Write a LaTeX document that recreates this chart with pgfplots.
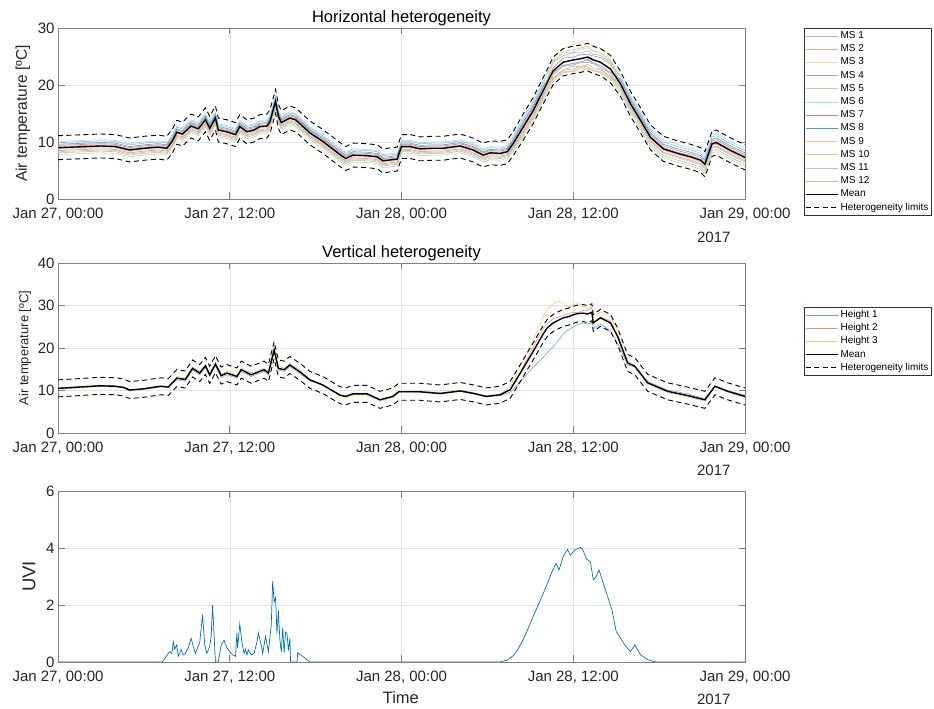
\documentclass[border=0pt]{standalone}
\usepackage{fontspec}
\setmainfont{Liberation Sans}
\usepackage{pgfplots}
\usepackage{pgfplotstable}
\pgfplotsset{compat=1.18}
\definecolor{c1}{HTML}{0072BD}
\definecolor{c2}{HTML}{D95319}
\definecolor{c3}{HTML}{EDB120}
\definecolor{c4}{HTML}{7E2F8E}
\definecolor{c5}{HTML}{77AC30}
\definecolor{c6}{HTML}{4DBEEE}
\definecolor{c7}{HTML}{A2142F}
\definecolor{axgray}{HTML}{808080}
\definecolor{txt}{HTML}{262626}

\pgfplotstableread{
t mean lo hi m1 m2 m3 m4 m5 m6 m7 m8 m9 m10 m11 m12
0 9.0 6.9 11.1 9.9 9.2 8.7 8.5 7.8 10.1 9.4 9.6 8.9 9.0 8.3 8.1
1 9.1 7.0 11.2 10.0 9.3 8.8 8.6 7.9 10.2 9.5 9.7 9.0 9.1 8.4 8.2
2 9.2 7.1 11.3 10.1 9.4 8.9 8.7 8.0 10.3 9.6 9.8 9.1 9.2 8.5 8.3
3 9.3 7.2 11.4 10.2 9.5 9.0 8.8 8.1 10.4 9.7 9.9 9.2 9.3 8.6 8.4
4 9.2 7.1 11.3 10.1 9.4 8.9 8.7 8.0 10.3 9.6 9.8 9.1 9.2 8.5 8.3
5 8.6 6.5 10.7 9.5 8.8 8.3 8.1 7.4 9.7 9.0 9.2 8.5 8.6 7.9 7.7
6 8.9 6.8 11.0 9.8 9.1 8.6 8.4 7.7 10.0 9.3 9.5 8.8 8.9 8.2 8.0
7 9.1 7.0 11.2 10.0 9.3 8.8 8.6 7.9 10.2 9.5 9.7 9.0 9.1 8.4 8.2
7.6 8.9 6.8 11.0 9.8 9.1 8.6 8.4 7.7 10.0 9.3 9.5 8.8 8.9 8.2 8.0
8.0 10.2 8.1 12.3 11.1 10.4 9.9 9.7 9.0 11.3 10.6 10.8 10.1 10.2 9.5 9.3
8.3 11.7 9.6 13.8 12.6 11.9 11.4 11.2 10.5 12.8 12.1 12.3 11.6 11.7 11.0 10.8
8.7 11.4 9.3 13.5 12.3 11.6 11.1 10.9 10.2 12.5 11.8 12.0 11.3 11.4 10.7 10.5
9.3 12.8 10.7 14.9 13.7 13.0 12.5 12.3 11.6 13.9 13.2 13.4 12.7 12.8 12.1 11.9
9.8 12.3 10.2 14.4 13.2 12.5 12.0 11.8 11.1 13.4 12.7 12.9 12.2 12.3 11.6 11.4
10.3 13.9 11.8 16.0 14.8 14.1 13.6 13.4 12.7 15.0 14.3 14.5 13.8 13.9 13.2 13.0
10.6 12.4 10.3 14.5 13.3 12.6 12.1 11.9 11.2 13.5 12.8 13.0 12.3 12.4 11.7 11.5
11.0 14.2 12.1 16.3 15.1 14.4 13.9 13.7 13.0 15.3 14.6 14.8 14.1 14.2 13.5 13.3
11.2 12.1 10.0 14.2 13.0 12.3 11.8 11.6 10.9 13.2 12.5 12.7 12.0 12.1 11.4 11.2
11.8 11.8 9.7 13.9 12.7 12.0 11.5 11.3 10.6 12.9 12.2 12.4 11.7 11.8 11.1 10.9
12.4 11.3 9.2 13.4 12.2 11.5 11.0 10.8 10.1 12.4 11.7 11.9 11.2 11.3 10.6 10.4
12.7 12.7 10.6 14.8 13.6 12.9 12.4 12.2 11.5 13.8 13.1 13.3 12.6 12.7 12.0 11.8
13.2 11.8 9.7 13.9 12.7 12.0 11.5 11.3 10.6 12.9 12.2 12.4 11.7 11.8 11.1 10.9
13.7 12.1 10.0 14.2 13.0 12.3 11.8 11.6 10.9 13.2 12.5 12.7 12.0 12.1 11.4 11.2
14.1 12.7 10.6 14.8 13.6 12.9 12.4 12.2 11.5 13.8 13.1 13.3 12.6 12.7 12.0 11.8
14.6 12.8 10.7 14.9 13.7 13.0 12.5 12.3 11.6 13.9 13.2 13.4 12.7 12.8 12.1 11.9
14.8 13.5 11.4 15.6 14.4 13.7 13.2 13.0 12.3 14.6 13.9 14.1 13.4 13.5 12.8 12.6
15.2 17.1 15.0 19.2 18.0 17.3 16.8 16.6 15.9 18.2 17.5 17.7 17.0 17.1 16.4 16.2
15.4 14.5 12.4 16.6 15.4 14.7 14.2 14.0 13.3 15.6 14.9 15.1 14.4 14.5 13.8 13.6
15.6 13.4 11.3 15.5 14.3 13.6 13.1 12.9 12.2 14.5 13.8 14.0 13.3 13.4 12.7 12.5
16.2 14.2 12.1 16.3 15.1 14.4 13.9 13.7 13.0 15.3 14.6 14.8 14.1 14.2 13.5 13.3
16.6 13.9 11.8 16.0 14.8 14.1 13.6 13.4 12.7 15.0 14.3 14.5 13.8 13.9 13.2 13.0
17.6 11.6 9.5 13.7 12.5 11.8 11.3 11.1 10.4 12.7 12.0 12.2 11.5 11.6 10.9 10.7
18.5 10.1 8.0 12.2 11.0 10.3 9.8 9.6 8.9 11.2 10.5 10.7 10.0 10.1 9.4 9.2
19.7 7.8 5.7 9.9 8.7 8.0 7.5 7.3 6.6 8.9 8.2 8.4 7.7 7.8 7.1 6.9
20.1 7.1 5.0 9.2 8.0 7.3 6.8 6.6 5.9 8.2 7.5 7.7 7.0 7.1 6.4 6.2
20.6 7.7 5.6 9.8 8.6 7.9 7.4 7.2 6.5 8.8 8.1 8.3 7.6 7.7 7.0 6.8
21.6 7.6 5.5 9.7 8.5 7.8 7.3 7.1 6.4 8.7 8.0 8.2 7.5 7.6 6.9 6.7
22.3 7.4 5.3 9.5 8.3 7.6 7.1 6.9 6.2 8.5 7.8 8.0 7.3 7.4 6.7 6.5
22.7 6.7 4.6 8.8 7.6 6.9 6.4 6.2 5.5 7.8 7.1 7.3 6.6 6.7 6.0 5.8
23.7 7.0 4.9 9.1 7.9 7.2 6.7 6.5 5.8 8.1 7.4 7.6 6.9 7.0 6.3 6.1
24.0 9.2 7.1 11.3 10.1 9.4 8.9 8.7 8.0 10.3 9.6 9.8 9.1 9.2 8.5 8.3
24.6 9.2 7.1 11.3 10.1 9.4 8.9 8.7 8.0 10.3 9.6 9.8 9.1 9.2 8.5 8.3
25.3 8.8 6.7 10.9 9.7 9.0 8.5 8.3 7.6 9.9 9.2 9.4 8.7 8.8 8.1 7.9
26.2 8.9 6.8 11.0 9.8 9.1 8.6 8.4 7.7 10.0 9.3 9.5 8.8 8.9 8.2 8.0
26.9 8.9 6.8 11.0 9.8 9.1 8.6 8.4 7.7 10.0 9.3 9.5 8.8 8.9 8.2 8.0
28.1 9.3 7.2 11.4 10.2 9.5 9.0 8.8 8.1 10.4 9.7 9.9 9.2 9.3 8.6 8.4
29.0 8.6 6.5 10.7 9.5 8.8 8.3 8.1 7.4 9.7 9.0 9.2 8.5 8.6 7.9 7.7
29.7 7.7 5.6 9.8 8.6 7.9 7.4 7.2 6.5 8.8 8.1 8.3 7.6 7.7 7.0 6.8
30.2 8.1 6.0 10.2 9.0 8.3 7.8 7.6 6.9 9.2 8.5 8.7 8.0 8.1 7.4 7.2
30.9 8.0 5.9 10.1 8.9 8.2 7.7 7.5 6.8 9.1 8.4 8.6 7.9 8.0 7.3 7.1
31.4 8.3 6.2 10.4 9.2 8.5 8.0 7.8 7.1 9.4 8.7 8.9 8.2 8.3 7.6 7.4
31.8 9.7 7.6 11.8 10.8 9.9 9.3 9.1 8.3 11.0 10.2 10.4 9.6 9.7 8.9 8.6
32.5 12.6 10.3 14.9 14.0 12.9 12.1 11.8 10.8 14.3 13.2 13.5 12.4 12.6 11.5 11.2
33.2 15.5 13.2 17.8 16.9 15.8 15.0 14.7 13.7 17.2 16.1 16.4 15.3 15.5 14.4 14.1
33.9 19.0 16.7 21.3 20.4 19.3 18.5 18.2 17.2 20.7 19.6 19.9 18.8 19.0 17.9 17.6
34.6 22.5 20.1 24.9 24.0 21.3 24.5 21.8 20.6 24.3 23.0 22.2 21.0 24.0 21.9 21.2
35.3 24.0 21.6 26.4 25.1 22.6 26.3 23.3 22.1 25.6 24.7 23.4 22.3 25.9 23.5 22.7
36.0 24.4 22.0 26.8 25.7 22.8 27.1 23.5 22.5 25.8 24.9 23.8 22.4 26.2 23.7 23.3
36.5 24.6 22.2 27.0 25.6 23.3 27.6 23.9 22.4 26.3 25.3 24.0 23.0 26.5 24.0 23.2
37.0 24.9 22.5 27.3 26.0 23.2 27.8 24.0 23.0 26.5 25.4 24.5 22.9 26.8 24.3 23.6
37.4 24.4 22.0 26.8 25.4 22.6 26.6 23.7 22.6 25.9 25.1 23.9 22.5 26.0 23.8 23.0
37.9 24.0 21.6 26.4 25.2 22.7 26.3 23.1 22.1 25.7 24.8 23.4 22.3 25.6 23.4 22.8
38.6 22.8 20.4 25.2 24.0 21.5 24.6 22.0 21.0 24.4 23.7 22.2 21.2 24.2 22.1 21.5
39.3 20.2 18.0 22.4 21.4 20.4 19.9 19.6 18.6 21.8 20.7 21.0 20.0 20.2 19.4 19.0
40.0 16.7 14.5 18.9 17.9 16.9 16.4 16.1 15.1 18.3 17.2 17.5 16.5 16.7 15.9 15.5
40.7 13.8 11.6 16.0 15.0 14.0 13.5 13.2 12.2 15.4 14.3 14.6 13.6 13.8 13.0 12.6
41.4 10.8 8.6 13.0 12.0 11.0 10.5 10.2 9.2 12.4 11.3 11.6 10.6 10.8 10.0 9.6
42.3 8.8 6.6 11.0 10.0 9.0 8.5 8.2 7.2 10.4 9.3 9.6 8.6 8.8 8.0 7.6
43.3 8.0 5.8 10.2 9.2 8.2 7.7 7.4 6.4 9.6 8.5 8.8 7.8 8.0 7.2 6.8
44.2 7.4 5.2 9.6 8.6 7.6 7.1 6.8 5.8 9.0 7.9 8.2 7.2 7.4 6.6 6.2
44.9 6.8 4.6 9.0 8.0 7.0 6.5 6.2 5.2 8.4 7.3 7.6 6.6 6.8 6.0 5.6
45.2 6.1 3.9 8.3 7.3 6.3 5.8 5.5 4.5 7.7 6.6 6.9 5.9 6.1 5.3 4.9
45.7 9.7 7.5 11.9 10.9 9.9 9.4 9.1 8.1 11.3 10.2 10.5 9.5 9.7 8.9 8.5
46.0 9.9 7.7 12.1 11.1 10.1 9.6 9.3 8.3 11.5 10.4 10.7 9.7 9.9 9.1 8.7
47.0 8.5 6.3 10.7 9.7 8.7 8.2 7.9 6.9 10.1 9.0 9.3 8.3 8.5 7.7 7.3
48.0 7.3 5.1 9.5 8.5 7.5 7.0 6.7 5.7 8.9 7.8 8.1 7.1 7.3 6.5 6.1
}\toptab

\pgfplotstableread{
t mean lo hi h1 h2 h3
0 10.5 8.5 12.5 10.6 10.5 10.3
1.5 10.8 8.8 12.8 10.9 10.8 10.6
2.9 11.1 9.1 13.1 11.2 11.1 10.9
4.0 11.0 9.0 13.0 11.1 11.0 10.8
4.6 10.7 8.7 12.7 10.8 10.7 10.5
5.0 10.1 8.1 12.1 10.2 10.1 9.9
6.0 10.4 8.4 12.4 10.5 10.4 10.2
7.2 11.0 9.0 13.0 11.1 11.0 10.8
7.7 10.8 8.8 12.8 10.9 10.8 10.6
8.3 12.9 10.9 14.9 12.5 12.9 13.3
8.9 12.6 10.6 14.6 12.2 12.6 13.0
9.4 15.2 13.2 17.2 14.8 15.2 15.6
9.9 14.1 12.1 16.1 13.7 14.1 14.5
10.3 15.8 13.8 17.8 15.4 15.8 16.2
10.6 13.7 11.7 15.7 13.3 13.7 14.1
11.0 16.2 14.2 18.2 15.8 16.2 16.6
11.4 13.5 11.5 15.5 13.1 13.5 13.9
11.8 14.1 12.1 16.1 13.7 14.1 14.5
12.5 13.3 11.3 15.3 12.9 13.3 13.7
12.8 14.9 12.9 16.9 14.5 14.9 15.3
13.5 13.7 11.7 15.7 13.3 13.7 14.1
14.4 14.9 12.9 16.9 14.5 14.9 15.3
14.7 14.1 12.1 16.1 13.7 14.1 14.5
15.1 19.5 17.5 21.5 19.1 19.5 20.5
15.4 15.2 13.2 17.2 14.8 15.2 15.6
15.8 14.9 12.9 16.9 14.5 14.9 15.3
16.2 16.0 14.0 18.0 15.6 16.0 16.4
16.9 14.4 12.4 16.4 14.0 14.4 14.8
17.6 12.5 10.5 14.5 12.3 12.5 12.7
18.5 11.3 9.3 13.3 11.2 11.3 11.4
19.7 8.9 6.9 10.9 9.0 8.9 8.6
20.1 8.6 6.6 10.6 8.7 8.6 8.3
20.6 9.2 7.2 11.2 9.3 9.2 8.9
21.6 9.2 7.2 11.2 9.3 9.2 8.9
22.5 7.8 5.8 9.8 7.9 7.8 7.5
23.4 8.6 6.6 10.6 8.7 8.6 8.3
23.8 9.7 7.7 11.7 9.8 9.7 9.5
25.3 9.7 7.7 11.7 9.6 9.7 9.9
26.7 9.3 7.3 11.3 9.2 9.3 9.5
28.1 9.9 7.9 11.9 9.8 9.9 10.1
29.2 9.2 7.2 11.2 9.1 9.2 9.4
29.9 8.6 6.6 10.6 8.5 8.6 8.8
30.9 9.0 7.0 11.0 8.8 9.0 9.2
31.6 10.2 8.2 12.2 9.6 10.2 10.8
32.3 14.1 12.1 16.1 12.0 14.3 15.8
33.2 19.2 17.2 21.2 15.5 20.3 21.8
33.9 23.3 21.3 25.3 17.8 24.6 27.4
34.2 24.8 22.8 26.8 19.0 25.8 29.2
34.6 25.9 23.9 27.9 20.3 26.9 30.4
35.0 26.6 24.6 28.6 22.0 27.3 31.0
35.3 27.1 25.1 29.1 23.3 27.6 30.5
35.6 27.3 25.3 29.3 24.2 27.9 29.6
36.0 27.8 25.8 29.8 24.9 28.4 30.1
36.3 28.1 26.1 30.1 25.5 28.3 30.7
36.7 28.2 26.2 30.2 25.9 28.9 29.8
37.0 28.0 26.0 30.0 25.6 28.8 29.3
37.3 28.4 26.4 30.4 26.0 29.4 29.7
37.4 25.9 23.9 27.9 24.6 26.0 27.2
37.9 27.1 25.1 29.1 25.6 27.3 28.4
38.6 25.9 23.9 27.9 24.0 26.4 27.4
39.1 22.7 20.7 24.7 21.2 23.0 24.0
39.8 16.5 14.5 18.5 16.0 16.5 17.0
40.3 15.7 13.7 17.7 15.6 15.7 15.6
41.2 11.8 9.8 13.8 12.1 11.8 11.5
42.6 9.8 7.8 11.8 10.1 9.8 9.5
44.0 8.8 6.8 10.8 9.2 8.8 8.4
45.2 7.8 5.8 9.8 8.1 7.8 7.5
45.9 11.0 9.0 13.0 11.1 11.0 10.9
46.8 9.8 7.8 11.8 10.0 9.8 9.6
48.0 8.6 6.6 10.6 8.9 8.6 8.3
}\midtab

\pgfplotsset{
  base/.style={
    scale only axis, width=687pt, anchor=south west,
    clip mode=individual,
    xmin=0, xmax=48, xtick={0,12,24,36,48},
    xticklabels={{Jan 27, 00:00},{Jan 27, 12:00},{Jan 28, 00:00},{Jan 28, 12:00},{Jan 29, 00:00}},
    grid=major, major grid style={color=black!11, line width=0.5pt},
    axis line style={color=axgray, line width=0.6pt},
    tick style={color=axgray, line width=0.6pt},
    tick align=inside, major tick length=6.5pt,
    ticklabel style={font=\fontsize{15}{17}\selectfont, text=txt},
    xticklabel style={yshift=-5pt},
    /pgf/number format/assume math mode=true,
    every axis title shift=0pt,
    title style={font=\fontsize{16.5}{18}\selectfont, at={(axis description cs:0.5,1)}, anchor=base, yshift=5.8pt, text=black},
    legend cell align=left,
    legend image code/.code={\draw[mark repeat=2,mark phase=2,#1] plot coordinates {(0pt,0pt) (16pt,0pt) (32pt,0pt)};},
  },
  msline/.style={line width=0.6pt},
  meanline/.style={black, line width=1.4pt},
  limline/.style={black, line width=0.9pt, dash pattern=on 5pt off 3.5pt},
  leg/.style={legend style={font=\fontsize{10}{11}\selectfont, draw=black!80, line width=0.5pt, inner sep=1pt, row sep=0pt,
      nodes={text height=7.4pt, text depth=2pt, inner sep=1.9pt}, fill=white}},
}

\begin{document}
\begin{tikzpicture}
\useasboundingbox (0,0) rectangle (934pt,709pt);

% ---------- top ----------
\begin{axis}[base, leg, at={(58pt,510pt)}, height=171pt,
  ymin=0, ymax=30, ytick={0,10,20,30},
  title={Horizontal heterogeneity},
  ylabel={Air temperature [ºC]},
  ylabel style={font=\fontsize{15.5}{17}\selectfont, text=txt, at={(axis description cs:-0.051,0.5)}, anchor=center},
  legend style={at={(axis description cs:1.0859,1)}, anchor=north west},
]
\addplot[msline, c1!45!white] table[x=t,y=m1]{\toptab};
\addplot[msline, c2!50!white] table[x=t,y=m2]{\toptab};
\addplot[msline, c3!50!white] table[x=t,y=m3]{\toptab};
\addplot[msline, c4!50!white] table[x=t,y=m4]{\toptab};
\addplot[msline, c5!50!white] table[x=t,y=m5]{\toptab};
\addplot[msline, c6!50!white] table[x=t,y=m6]{\toptab};
\addplot[msline, c7!55!white] table[x=t,y=m7]{\toptab};
\addplot[msline, c1!70!white] table[x=t,y=m8]{\toptab};
\addplot[msline, c2!35!white, line width=1.2pt] table[x=t,y=m9]{\toptab};
\addplot[msline, c3!70!white] table[x=t,y=m10]{\toptab};
\addplot[msline, c4!35!white] table[x=t,y=m11]{\toptab};
\addplot[msline, c5!60!white] table[x=t,y=m12]{\toptab};
\addplot[meanline] table[x=t,y=mean]{\toptab};
\addplot[limline] table[x=t,y=lo]{\toptab};
\addplot[limline, forget plot] table[x=t,y=hi]{\toptab};
\legend{MS 1,MS 2,MS 3,MS 4,MS 5,MS 6,MS 7,MS 8,MS 9,MS 10,MS 11,MS 12,Mean,Heterogeneity limits}
\node[anchor=north west, inner sep=0pt, yshift=-33pt, font=\fontsize{15}{17}\selectfont, text=txt] at (axis description cs:0.930,0) {2017};
\end{axis}

% ---------- middle ----------
\begin{axis}[base, leg, at={(58pt,276pt)}, height=170pt,
  ymin=0, ymax=40, ytick={0,10,20,30,40},
  title={Vertical heterogeneity},
  ylabel={Air temperature [ºC]},
  ylabel style={font=\fontsize{13}{15}\selectfont, text=txt, at={(axis description cs:-0.048,0.5)}, anchor=center},
  legend style={at={(axis description cs:1.0859,0.741)}, anchor=north west},
]
\addplot[msline, c1!60!white] table[x=t,y=h1]{\midtab};
\addplot[msline, c2!60!white] table[x=t,y=h2]{\midtab};
\addplot[msline, c3!65!white] table[x=t,y=h3]{\midtab};
\addplot[meanline] table[x=t,y=mean]{\midtab};
\addplot[limline] table[x=t,y=lo]{\midtab};
\addplot[limline, forget plot] table[x=t,y=hi]{\midtab};
\legend{Height 1,Height 2,Height 3,Mean,Heterogeneity limits}
\node[anchor=north west, inner sep=0pt, yshift=-32pt, font=\fontsize{15}{17}\selectfont, text=txt] at (axis description cs:0.930,0) {2017};
\end{axis}

% ---------- bottom ----------
\begin{axis}[base, at={(58pt,47pt)}, height=171pt,
  ymin=0, ymax=6, ytick={0,2,4,6},
  ylabel={UVI},
  ylabel style={font=\fontsize{18.5}{20}\selectfont, text=txt, at={(axis description cs:-0.042,0.5)}, anchor=center},
  xlabel={Time},
  xlabel style={font=\fontsize{16.5}{18}\selectfont, text=txt, at={(axis description cs:0.499,-0.17)}, anchor=north, inner sep=0pt},
]
\addplot[c1, line width=0.7pt] coordinates {
(0,0) (7.3,0) (7.5,0.15) (7.8,0.36) (7.95,0.3) (8.06,0.71) (8.15,0.45) (8.3,0.6) (8.4,0.2) (8.6,0.43) (8.75,0.25) (8.9,0.3) (9.1,0.5) (9.3,0.83) (9.45,0.55) (9.6,0.3) (9.9,0.68) (10.1,1.65) (10.25,0.6) (10.4,0.3) (10.6,0.55) (10.7,0.9) (10.8,2.0) (10.95,0.5) (11.0,0.0) (11.2,0.0) (11.3,0.3) (11.4,0.6) (11.6,0.76) (11.8,0.5) (12.0,0.36) (12.2,0.25) (12.4,0.2) (12.5,1.02) (12.55,0.5) (12.7,1.33) (12.85,0.7) (13.0,0.3) (13.1,0.45) (13.2,0.25) (13.3,0.43) (13.5,0.25) (13.7,0.3) (13.9,0.7) (14.0,1.02) (14.2,0.6) (14.3,0.3) (14.5,0.9) (14.7,0.36) (14.9,1.3) (15.0,2.85) (15.1,2.1) (15.2,2.26) (15.3,1.0) (15.4,1.8) (15.5,0.8) (15.6,0.36) (15.7,1.2) (15.8,0.33) (15.9,1.05) (16.0,1.0) (16.1,0.4) (16.2,0.83) (16.25,0) (16.7,0) (16.75,0.33) (17.6,0) (30.9,0) (31.4,0.07) (31.8,0.22) (32.1,0.42) (32.5,0.78) (32.8,1.12) (33.2,1.6) (33.5,1.94) (33.9,2.4) (34.2,2.76) (34.5,3.15) (34.8,3.46) (35.0,3.23) (35.3,3.7) (35.6,3.95) (35.8,3.75) (36.1,3.93) (36.5,4.02) (36.7,3.9) (36.9,3.63) (37.2,3.51) (37.4,2.88) (37.6,3.0) (37.8,3.23) (38.1,2.76) (38.4,2.3) (38.7,1.83) (39.0,1.07) (39.3,0.85) (39.6,0.6) (40.0,0.36) (40.3,0.6) (40.7,0.25) (41.2,0.08) (41.6,0.02) (41.8,0) (48,0)
};
\node[anchor=north west, inner sep=0pt, yshift=-32pt, font=\fontsize{15}{17}\selectfont, text=txt] at (axis description cs:0.930,0) {2017};
\end{axis}
\end{tikzpicture}
\end{document}
